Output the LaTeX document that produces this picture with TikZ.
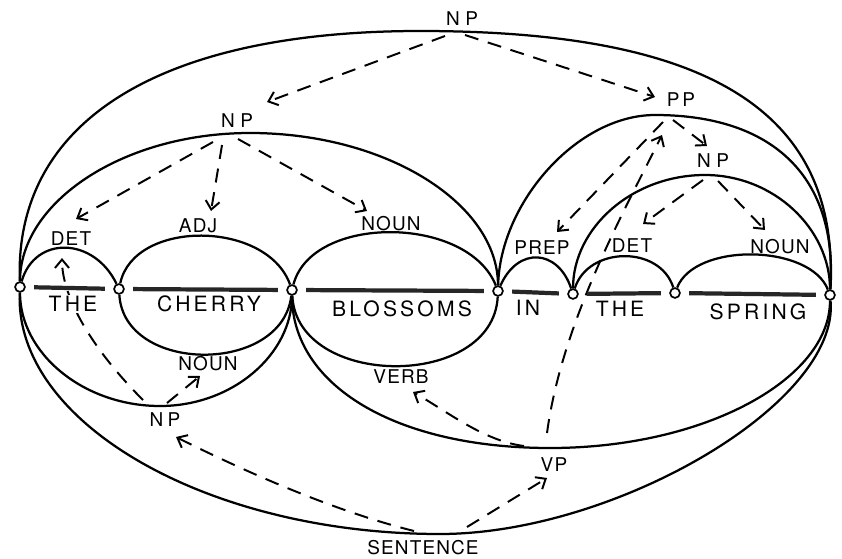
\documentclass[tikz,border=0pt]{standalone}
\usepackage{fontspec}
\usetikzlibrary{arrows.meta}
\newfontfamily\wordfont[LetterSpace=15]{TeX Gyre Heros}
\newfontfamily\catfont[LetterSpace=6]{TeX Gyre Heros}

\tikzset{
  vtx/.style={draw, circle, line width=1.2pt, inner sep=0pt, minimum size=7pt},
  wordbar/.style={line width=3pt, black!85, shorten <=6pt, shorten >=6pt},
  arcline/.style={line width=1.6pt},
  dep/.style={line width=1.4pt, dash pattern=on 10pt off 7pt,
    -{Straight Barb[length=6pt,width=10pt]}},
  cat/.style={inner sep=1pt, font=\catfont\fontsize{13.5}{13.5}\selectfont},
  word/.style={inner sep=1pt, fill=white, font=\wordfont\fontsize{15}{15}\selectfont},
}

\begin{document}
\begin{tikzpicture}[x=0.025cm, y=-0.025cm]
    \useasboundingbox (0,0) rectangle (842,559);

    % vertices between the words
    \node[vtx] (v0) at (20,287) {};
    \node[vtx] (v1) at (119,289) {};
    \node[vtx] (v2) at (292,290) {};
    \node[vtx] (v3) at (498,291) {};
    \node[vtx] (v4) at (573,294) {};
    \node[vtx] (v5) at (675,293) {};
    \node[vtx] (v6) at (830,295) {};

    % turning points of the long arcs
    \coordinate (np1pk) at (420,31);
    \coordinate (np2pk) at (250,133);
    \coordinate (pppk) at (655,115);
    \coordinate (np3pk) at (705,175);
    \coordinate (np4pk) at (160,406);
    \coordinate (vppk) at (550,448);
    \coordinate (sentpk) at (440,534);

    % category labels
    \node[cat] (np1) at (462,19) {N\kern4pt P};
    \node[cat] (np2) at (237,121) {N\kern4pt P};
    \node[cat] (pp) at (681,100) {P\kern2pt P};
    \node[cat] (np3) at (713,161) {N\kern4pt P};
    \node[cat] (det1) at (71,239) {DET};
    \node[cat] (adj) at (198,226) {ADJ};
    \node[cat] (noun1) at (391,224) {NOUN};
    \node[cat] (prep) at (542,248) {PREP};
    \node[cat] (det2) at (632,246) {DET};
    \node[cat] (noun2) at (780,247) {NOUN};
    \node[cat] (noun3) at (208,364) {NOUN};
    \node[cat] (np4) at (165,420) {N\kern3pt P};
    \node[cat] (verb) at (401,377) {VERB};
    \node[cat] (vp) at (554,465) {V\kern1pt P};
    \node[cat] (sent) at (423,548) {SENTENCE};

    % one-word arcs above the line
    \draw[arcline] (v0) .. controls +(15,-52) and +(-25,-52) .. (v1);
    \draw[arcline] (v1) .. controls +(15,-70) and +(-25,-70) .. (v2);
    \draw[arcline] (v2) .. controls +(20,-76) and +(-30,-76) .. (v3);
    \draw[arcline] (v3) .. controls +(20,-45) and +(-15,-45) .. (v4);
    \draw[arcline] (v4) .. controls +(15,-48) and +(-15,-48) .. (v5);
    \draw[arcline] (v5) .. controls +(20,-51) and +(-20,-51) .. (v6);

    % phrase arcs above the line
    \draw[arcline] (v0) .. controls +(-6,-166) and +(-260,0) .. (np1pk)
                        .. controls +(287,0) and +(10,-185) .. (v6);
    \draw[arcline] (v0) .. controls +(0,-85) and +(-127,0) .. (np2pk)
                        .. controls +(137,0) and +(0,-87) .. (v3);
    \draw[arcline] (v3) .. controls +(2,-88) and +(-78,0) .. (pppk)
                        .. controls +(119,0) and +(8,-117) .. (v6);
    \draw[arcline] (v4) .. controls +(0,-66) and +(-73,0) .. (np3pk)
                        .. controls +(69,0) and +(0,-66) .. (v6);

    % arcs below the line
    \draw[arcline] (v1) .. controls +(5,85) and +(-10,85) .. (v2);
    \draw[arcline] (v2) .. controls +(5,99) and +(-5,99) .. (v3);
    \draw[arcline] (v0) .. controls +(0,66) and +(-77,0) .. (np4pk)
                        .. controls +(73,0) and +(0,64) .. (v2);
    \draw[arcline] (v2) .. controls +(0,95) and +(-155,0) .. (vppk)
                        .. controls +(155,0) and +(0,84) .. (v6);
    \draw[arcline] (v0) .. controls +(-6,136) and +(-232,0) .. (sentpk)
                        .. controls +(175,0) and +(10,108) .. (v6);

    % dashed links from each phrase to its parts
    \draw[dep] ([shift={(-17,17)}]np1.center) -- ([shift={(30,-19)}]np2.center);
    \draw[dep] ([shift={(3,16)}]np1.center) -- ([shift={(-26,-3)}]pp.center);
    \draw[dep] ([shift={(-24,21)}]np2.center) -- ([shift={(5,-20)}]det1.center);
    \draw[dep] ([shift={(-15,24)}]np2.center) -- ([shift={(13,-15)}]adj.center);
    \draw[dep] ([shift={(1,18)}]np2.center) -- ([shift={(-24,-13)}]noun1.center);
    \draw[dep] ([shift={(-18,22)}]pp.center) -- ([shift={(15,-16)}]prep.center);
    \draw[dep] ([shift={(-8,20)}]pp.center) -- ([shift={(-6,-15)}]np3.center);
    \draw[dep] ([shift={(-10,19)}]np3.center) -- ([shift={(11,-22)}]det2.center);
    \draw[dep] ([shift={(5,20)}]np3.center) -- ([shift={(-15,-17)}]noun2.center);
    \draw[dep] ([shift={(-22,-20)}]np4.center) .. controls +(-50,-50) and +(0,40)
               .. ([shift={(-9,19)}]det1.center);
    \draw[dep] ([shift={(2,-17)}]np4.center) -- ([shift={(-8,12)}]noun3.center);
    \draw[dep] ([shift={(-30,-19)}]vp.center) .. controls +(-40,-5) and +(35,20)
               .. ([shift={(12,15)}]verb.center);
    \draw[dep] ([shift={(-7,-32)}]vp.center) .. controls +(15,-110) and +(-40,80)
               .. ([shift={(-19,35)}]pp.center);
    \draw[dep] ([shift={(-9,-17)}]sent.center) .. controls +(-80,-20) and +(70,35)
               .. ([shift={(11,17)}]np4.center);
    \draw[dep] ([shift={(44,-21)}]sent.center) -- ([shift={(-7,13)}]vp.center);

    % the words and their bars
    \node[word] (w1) at (73,304) {THE};
    \node[word] (w2) at (209,304) {CHERRY};
    \node[word] (w3) at (402,309) {BLOSSOMS};
    \node[word] (w4) at (528,308) {IN};
    \node[word] (w5) at (620,309) {THE};
    \node[word] (w6) at (758,312) {SPRING};
    \draw[wordbar] (v0) -- (v1);
    \draw[wordbar] (v1) -- (v2);
    \draw[wordbar] (v2) -- (v3);
    \draw[wordbar] (v3) -- (v4);
    \draw[wordbar] (v4) -- (v5);
    \draw[wordbar] (v5) -- (v6);

\end{tikzpicture}
\end{document}
